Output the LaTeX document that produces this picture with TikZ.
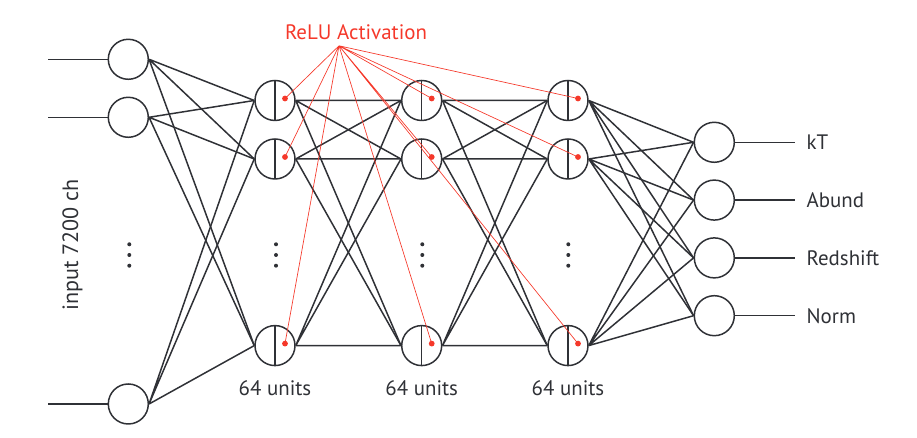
\documentclass[tikz,border=0pt]{standalone}
\usepackage{fontspec}
\setmainfont{PT Sans}
\usepackage{tikz}
\usepackage{xcolor}
\definecolor{netgray}{HTML}{2F3136}
\definecolor{relured}{HTML}{F5382A}

\begin{document}
\begin{tikzpicture}[
    line width=.85pt,
    every node/.style={font=\fontsize{11.9}{14}\selectfont,text=netgray},
    unit/.style={circle,draw=netgray,minimum size=.8cm,inner sep=0pt},
    hunit/.style={unit,path picture={\draw[netgray,line width=.85pt]
      (path picture bounding box.north) -- (path picture bounding box.south);}},
    link/.style={draw=netgray},
    relu/.style={draw=relured,line width=.38pt}]
  \useasboundingbox (0,0) rectangle (18.34,8.76);
  \path (2.566,7.574)
    node (i1) [unit] {} ++(0,-1.16)
    node (i2) [unit] {} ++(0,-5.734)
    node (i3) [unit] {};
  \path (5.5,6.75)
    node (a1) [hunit] {} ++(0,-1.17)
    node (a2) [hunit] {} ++(0,-3.732)
    node (a3) [hunit] {} ++(2.934,0)
    node (b3) [hunit] {} ++(0,3.732)
    node (b2) [hunit] {} ++(0,1.17)
    node (b1) [hunit] {} ++(2.926,0)
    node (c1) [hunit] {} ++(0,-1.17)
    node (c2) [hunit] {} ++(0,-3.732)
    node (c3) [hunit] {};
  \path (14.286,5.914)
    node (o1) [unit] {} ++(0,-1.156)
    node (o2) [unit] {} ++(0,-1.156)
    node (o3) [unit] {} ++(0,-1.156)
    node (o4) [unit] {};

  \draw[link] (i1.west) -- ++(-1.2,0) coordinate (i1s);
  \draw[link] (i2.west) -- ++(-1.2,0) coordinate (i2s);
  \draw[link] (i3.west) -- ++(-1.2,0) coordinate (i3s);
  \draw[link] (i1.east) -- (a1.west) (i1.east) -- (a2.west) (i1.east) -- (a3.west);
  \draw[link] (i2.east) -- (a1.west) (i2.east) -- (a2.west) (i2.east) -- (a3.west);
  \draw[link] (i3.east) -- (a1.west) (i3.east) -- (a2.west) (i3.east) -- (a3.west);
  \draw[link] (a1.east) -- (b1.west) (a1.east) -- (b2.west) (a1.east) -- (b3.west);
  \draw[link] (a2.east) -- (b1.west) (a2.east) -- (b2.west) (a2.east) -- (b3.west);
  \draw[link] (a3.east) -- (b1.west) (a3.east) -- (b2.west) (a3.east) -- (b3.west);
  \draw[link] (b1.east) -- (c1.west) (b1.east) -- (c2.west) (b1.east) -- (c3.west);
  \draw[link] (b2.east) -- (c1.west) (b2.east) -- (c2.west) (b2.east) -- (c3.west);
  \draw[link] (b3.east) -- (c1.west) (b3.east) -- (c2.west) (b3.east) -- (c3.west);
  \draw[link] (c1.east) -- (o1.west) (c1.east) -- (o2.west) (c1.east) -- (o3.west) (c1.east) -- (o4.west);
  \draw[link] (c2.east) -- (o1.west) (c2.east) -- (o2.west) (c2.east) -- (o3.west) (c2.east) -- (o4.west);
  \draw[link] (c3.east) -- (o1.west) (c3.east) -- (o2.west) (c3.east) -- (o3.west) (c3.east) -- (o4.west);
  \draw[link] (o1.east) -- ++(1.2,0) coordinate (o1e) node (kt) [right,xshift=.1cm] {kT};
  \draw[link] (o2.east) -- ++(1.2,0) coordinate (o2e) node (ab) [right,xshift=.1cm] {Abund};
  \draw[link] (o3.east) -- ++(1.2,0) coordinate (o3e) node (rs) [right,xshift=.1cm] {Redshift};
  \draw[link] (o4.east) -- ++(1.2,0) coordinate (o4e) node (nm) [right,xshift=.1cm] {Norm};

  \fill[netgray] (2.586,3.874) circle (.04) ++(0,-.214) circle (.04) ++(0,-.214) circle (.04);
  \fill[netgray] (5.52,3.874) circle (.04) ++(0,-.214) circle (.04) ++(0,-.214) circle (.04);
  \fill[netgray] (8.446,3.874) circle (.04) ++(0,-.214) circle (.04) ++(0,-.214) circle (.04);
  \fill[netgray] (11.366,3.874) circle (.04) ++(0,-.214) circle (.04) ++(0,-.214) circle (.04);

  \path (1.45,3.86) node (inp) [rotate=90,font=\fontsize{12.6}{14}\selectfont] {input 7200 ch};
  \path (node cs:name=a3,anchor=center) ++(0,-.99) node (u1) [anchor=base] {64 units};
  \path (node cs:name=b3,anchor=center) ++(0,-.99) node (u2) [anchor=base] {64 units};
  \path (node cs:name=c3,anchor=center) ++(0,-.99) node (u3) [anchor=base] {64 units};

  \path (7.12,7.974) node (act) [anchor=base,text=relured] {ReLU Activation};
  \path (node cs:name=act,anchor=base) +(-.34,-.13) coordinate (acts);
  \path (node cs:name=a1,anchor=center) +(.2,.04) coordinate (a1r);
  \path (node cs:name=a2,anchor=center) +(.2,.04) coordinate (a2r);
  \path (node cs:name=a3,anchor=center) +(.2,.04) coordinate (a3r);
  \path (node cs:name=b1,anchor=center) +(.2,.04) coordinate (b1r);
  \path (node cs:name=b2,anchor=center) +(.2,.04) coordinate (b2r);
  \path (node cs:name=b3,anchor=center) +(.2,.04) coordinate (b3r);
  \path (node cs:name=c1,anchor=center) +(.2,.04) coordinate (c1r);
  \path (node cs:name=c2,anchor=center) +(.2,.04) coordinate (c2r);
  \path (node cs:name=c3,anchor=center) +(.2,.04) coordinate (c3r);
  \draw[relu] (acts) -- (a1r) (acts) -- (a2r) (acts) -- (a3r)
    (acts) -- (b1r) (acts) -- (b2r) (acts) -- (b3r)
    (acts) -- (c1r) (acts) -- (c2r) (acts) -- (c3r);
  \fill[relured] (a1r) circle (.058) (a2r) circle (.058) (a3r) circle (.058)
    (b1r) circle (.058) (b2r) circle (.058) (b3r) circle (.058)
    (c1r) circle (.058) (c2r) circle (.058) (c3r) circle (.058);
\end{tikzpicture}
\end{document}
